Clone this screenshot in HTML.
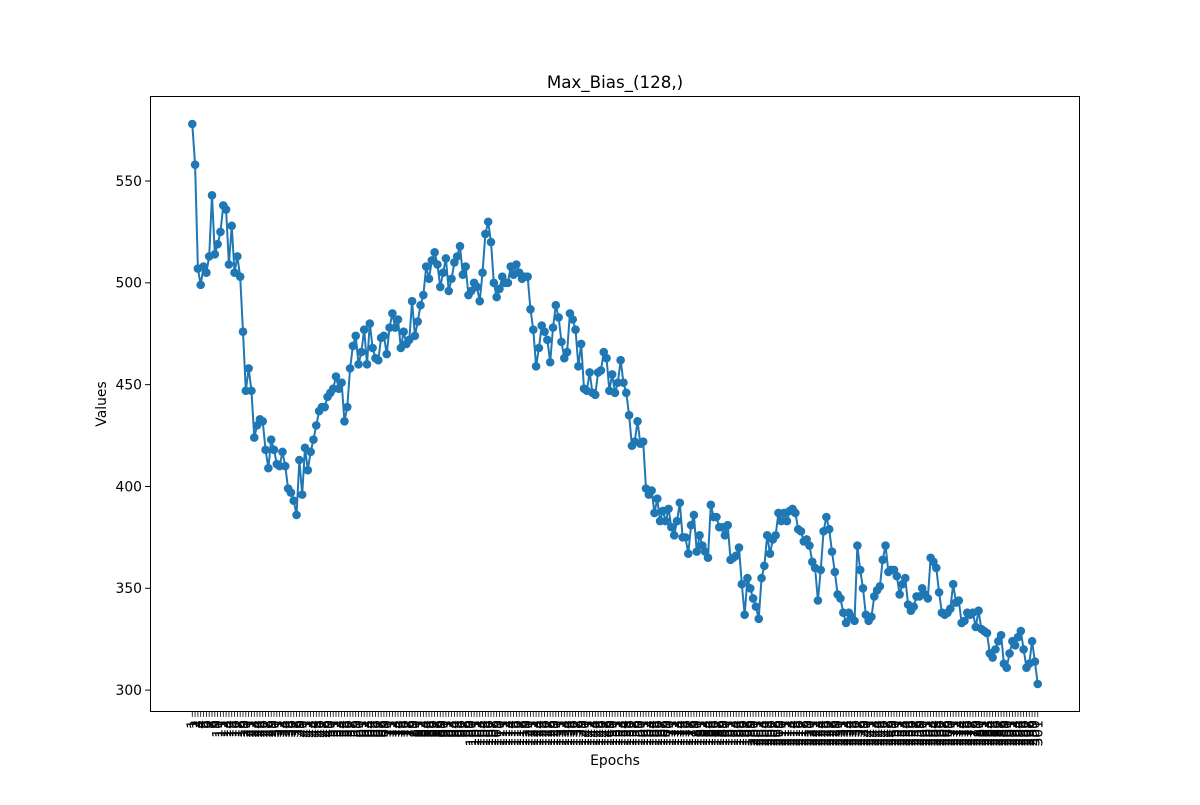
<!DOCTYPE html>
<html><head><meta charset="utf-8"><style>
body{margin:0;background:#fff;}
svg text{font-family:"DejaVu Sans","Liberation Sans",sans-serif;}
</style></head><body>
<svg id="chart" width="1200" height="800" xmlns="http://www.w3.org/2000/svg">
<rect width="1200" height="800" fill="#fff"/>
<text x="615" y="88" font-size="16.7" text-anchor="middle">Max_Bias_(128,)</text>
<text x="615" y="765" font-size="13.9" text-anchor="middle">Epochs</text>
<text x="106" y="404" font-size="13.9" text-anchor="middle" transform="rotate(-90 106 404)">Values</text>
<g id="yaxis"></g>
<g id="xaxis"></g>
<g id="plot"></g>
<rect x="150.5" y="96.5" width="929" height="615" fill="none" stroke="#000" stroke-width="1"/>
</svg>
<script>
const values = [578,558,507,499,508,505,513,543,514,519,525,538,536,509,528,505,513,503,476,447,458,447,424,430,433,432,418,409,423,418,411,410,417,410,399,397,393,386,413,396,419,408,417,423,430,437,439,439,444,446,448,454,448,451,432,439,458,469,474,460,466,477,460,480,468,463,462,473,474,465,478,485,478,482,468,476,470,472,491,474,481,489,494,508,502,511,515,509,498,505,512,496,502,510,513,518,504,508,494,496,500,498,491,505,524,530,520,500,493,497,503,500,500,508,504,509,505,502,503,503,487,477,459,468,479,476,472,461,478,489,483,471,463,466,485,482,477,459,470,448,447,456,446,445,456,457,466,463,447,455,446,451,462,451,446,435,420,422,432,421,422,399,396,398,387,394,383,388,383,389,380,376,383,392,375,375,367,381,386,368,376,371,368,365,391,385,385,380,380,376,381,364,365,366,370,352,337,355,350,345,341,335,355,361,376,367,374,376,387,383,387,383,388,389,387,379,378,373,374,371,363,360,344,359,378,385,379,368,358,347,345,338,333,338,336,334,371,359,350,337,334,336,346,349,351,364,371,358,359,359,356,347,352,355,342,339,341,346,346,350,347,345,365,363,360,348,338,337,338,340,352,343,344,333,334,338,337,338,331,339,330,329,328,318,316,320,324,327,313,311,318,324,322,326,329,320,311,313,324,314,303];
const categories = values.map((v,i)=>String(i+1));
const yTicks = [300,350,400,450,500,550];
const NS="http://www.w3.org/2000/svg";
const L=150,R=1080,T=96,B=712;
const n=values.length;
const xr=(n-1)*0.05;
const xMin=-xr, xMax=n-1+xr;
const vmin=Math.min(...values), vmax=Math.max(...values), m=(vmax-vmin)*0.05;
const yMin=vmin-m, yMax=vmax+m;
const xs=i=>L+(i-xMin)/(xMax-xMin)*(R-L);
const ys=v=>B-(v-yMin)/(yMax-yMin)*(B-T);
function mk(t,a,p){const e=document.createElementNS(NS,t);for(const k in a)e.setAttribute(k,a[k]);p.appendChild(e);return e;}
const ya=document.getElementById('yaxis');
yTicks.forEach(t=>{const y=ys(t);
 const l=mk('line',{x1:L-4.9,x2:L,y1:y,y2:y,stroke:'#000'},ya);
 
 
 const tx=mk('text',{x:L-8,y:y+4.8,'font-size':13.9,'text-anchor':'end'},ya);tx.textContent=t;
 
 
});
const xa=document.getElementById('xaxis');
categories.forEach((c,i)=>{const x=xs(i);
 const l=mk('line',{x1:x,x2:x,y1:B,y2:B+4.9,stroke:'#000','stroke-width':0.8},xa);
 
 
 const tx=mk('text',{x:x+4.8,y:B+8,'font-size':13.9,'text-anchor':'end',transform:`rotate(-90 ${x+4.8} ${B+8})`},xa);tx.textContent=c;
 
 
});
const pl=document.getElementById('plot');
const line=mk('polyline',{points:values.map((v,i)=>xs(i)+','+ys(v)).join(' '),fill:'none',stroke:'#1f77b4','stroke-width':2},pl);


values.forEach((v,i)=>{const c=mk('circle',{cx:xs(i),cy:ys(v),r:4.3,fill:'#1f77b4'},pl);
 
 
});
</script>
</body></html>
